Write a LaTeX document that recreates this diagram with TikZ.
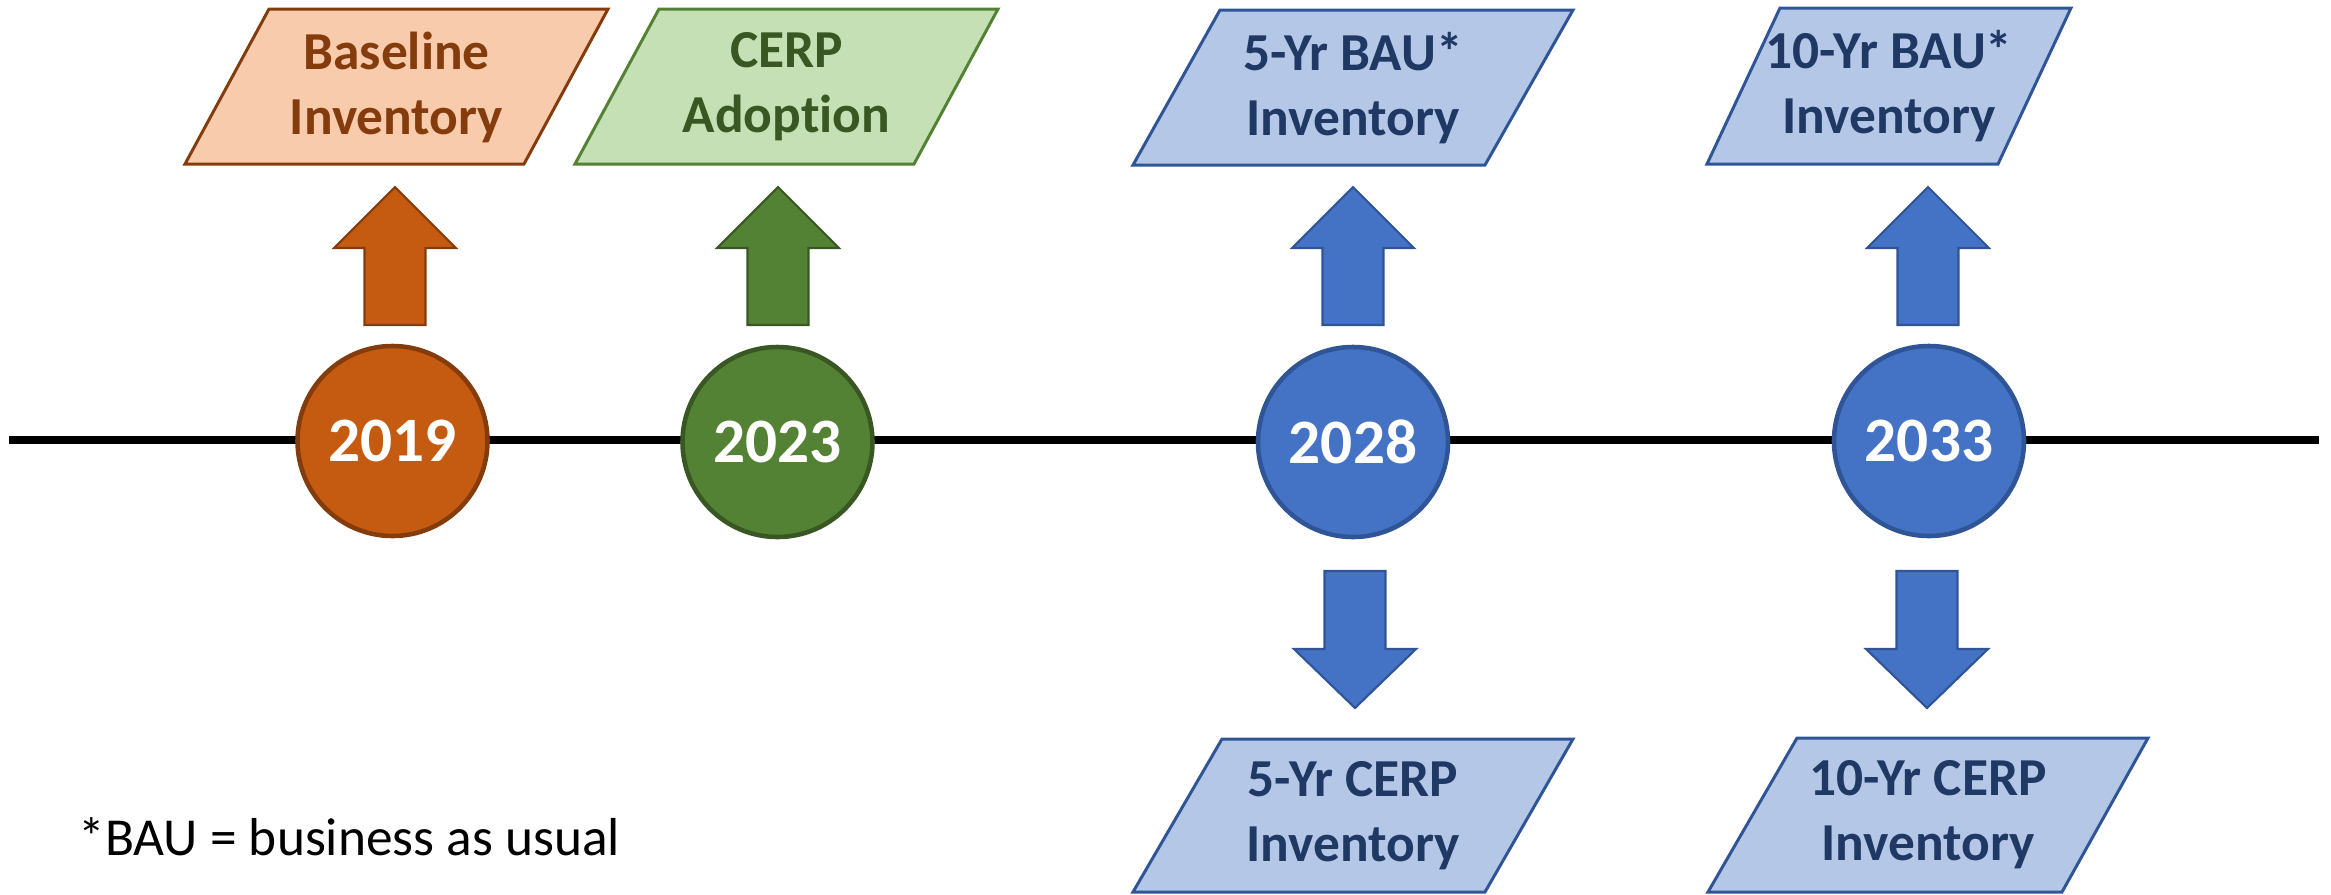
\documentclass[tikz,border=0pt]{standalone}
\usepackage{fontspec}
\setmainfont{Carlito}[Ligatures=CommonOff]
\definecolor{orLight}{HTML}{F8CBAD}
\definecolor{orDark}{HTML}{843C0C}
\definecolor{orMid}{HTML}{C55A11}
\definecolor{grLight}{HTML}{C5E0B4}
\definecolor{grMid}{HTML}{548235}
\definecolor{grDark}{HTML}{385723}
\definecolor{blLight}{HTML}{B4C7E7}
\definecolor{blMid}{HTML}{4472C4}
\definecolor{blEdge}{HTML}{2F5597}
\definecolor{blDark}{HTML}{1F3864}
\tikzset{
  boxpath/.style={line width=0.85pt, line join=miter},
  boxtext/.style={align=center, font=\fontsize{15.2}{18.5}\selectfont\bfseries, inner sep=0pt},
  yearnode/.style={circle, minimum size=1.9cm, inner sep=0pt, line width=1.3pt, text=white, font=\fontsize{18}{20}\selectfont\bfseries},
  blockarrow/.style={line width=0.6pt, line join=miter},
}
% block arrows: #1 = x, #2 = style
\newcommand\blockup[2]{%
  \draw[blockarrow,#2] (#1-0.305,-3.25) -- (#1-0.305,-2.48) -- (#1-0.61,-2.48) -- (#1,-1.87)
    -- (#1+0.61,-2.48) -- (#1+0.305,-2.48) -- (#1+0.305,-3.25) -- cycle;}
\newcommand\blockdown[2]{%
  \draw[blockarrow,#2] (#1-0.305,-5.71) -- (#1-0.305,-6.49) -- (#1-0.61,-6.49) -- (#1,-7.08)
    -- (#1+0.61,-6.49) -- (#1+0.305,-6.49) -- (#1+0.305,-5.71) -- cycle;}
\begin{document}
\begin{tikzpicture}
\useasboundingbox (0,0) rectangle (23.31,-8.94);
% timeline
\coordinate (lineL) at (0.09,-4.40);
\coordinate (lineR) at (23.19,-4.40);
\draw[line width=2pt, black] (lineL) -- (lineR);

% year circles
\node[yearnode, fill=orMid, draw=orDark] (y2019) at (3.925,-4.41) {2019};
\node[yearnode, fill=grMid, draw=grDark] (y2023) at (7.775,-4.42) {2023};
\node[yearnode, fill=blMid, draw=blEdge] (y2028) at (13.53,-4.42) {2028};
\node[yearnode, fill=blMid, draw=blEdge] (y2033) at (19.29,-4.41) {2033};

% block arrows
\blockup{3.95}{fill=orMid, draw=orDark}
\blockup{7.78}{fill=grMid, draw=grDark}
\blockup{13.53}{fill=blMid, draw=blEdge}
\blockup{19.28}{fill=blMid, draw=blEdge}
\blockdown{13.55}{fill=blMid, draw=blEdge}
\blockdown{19.27}{fill=blMid, draw=blEdge}

% parallelograms
\draw[boxpath, fill=orLight, draw=orDark] (1.85,-1.64) -- (5.24,-1.64) -- (6.08,-0.09) -- (2.69,-0.09) -- cycle;
\node[boxtext, text=orDark] (base) at (3.965,-0.87) {Baseline\\Inventory};

\draw[boxpath, fill=grLight, draw=grMid] (5.75,-1.64) -- (9.14,-1.64) -- (9.98,-0.09) -- (6.59,-0.09) -- cycle;
\node[boxtext, text=grDark] (cerp) at (7.865,-0.87) {CERP\\Adoption};

\draw[boxpath, fill=blLight, draw=blEdge] (11.33,-1.65) -- (14.85,-1.65) -- (15.73,-0.10) -- (12.20,-0.10) -- cycle;
\node[boxtext, text=blDark] (bau5) at (13.53,-0.88) {5-Yr BAU*\\Inventory};

\draw[boxpath, fill=blLight, draw=blEdge] (17.07,-1.64) -- (19.98,-1.64) -- (20.71,-0.08) -- (17.80,-0.08) -- cycle;
\node[boxtext, text=blDark] (bau10) at (18.89,-0.86) {10-Yr BAU*\\Inventory};

\draw[boxpath, fill=blLight, draw=blEdge] (11.33,-8.92) -- (14.85,-8.92) -- (15.73,-7.39) -- (12.22,-7.39) -- cycle;
\node[boxtext, text=blDark] (cerp5) at (13.53,-8.16) {5-Yr CERP\\Inventory};

\draw[boxpath, fill=blLight, draw=blEdge] (17.08,-8.92) -- (20.62,-8.92) -- (21.48,-7.38) -- (17.97,-7.38) -- cycle;
\node[boxtext, text=blDark] (cerp10) at (19.28,-8.15) {10-Yr CERP\\Inventory};

% footnote
\node[anchor=base west, inner sep=0pt, font=\fontsize{15.2}{17}\selectfont] (foot) at (0.78,-8.55) {*BAU = business as usual};
\end{tikzpicture}
\end{document}
